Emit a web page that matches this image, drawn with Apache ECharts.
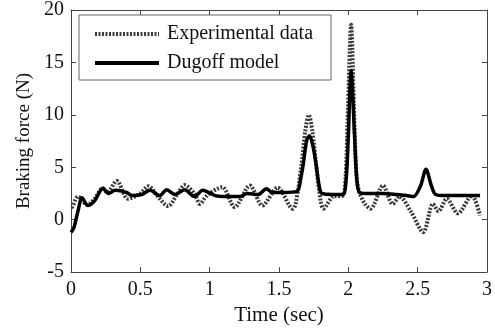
<!DOCTYPE html>
<html><head><meta charset="utf-8">
<script src="https://cdn.jsdelivr.net/npm/echarts@6/dist/echarts.min.js"></script>
<style>html,body{margin:0;padding:0;background:#fff}#c{width:495px;height:331px}</style>
</head><body><div id="c"></div>
<script>
const seriesNames = ['Experimental data', 'Dugoff model'];
const xTicks = [0, 0.5, 1, 1.5, 2, 2.5, 3];
const yTicks = [-5, 0, 5, 10, 15, 20];

const expT = [0,0.01,0.05,0.12,0.17,0.23,0.26,0.33,0.41,0.50,0.56,0.62,0.70,0.77,0.82,0.89,0.93,0.98,1.09,1.18,1.29,1.38,1.49,1.60,1.62,1.66,1.69,1.715,1.74,1.77,1.80,1.82,1.89,1.96,1.98,1.995,2.02,2.043,2.06,2.08,2.12,2.16,2.25,2.32,2.37,2.45,2.54,2.61,2.65,2.71,2.79,2.89,2.95];
const expV = [1.2,1.25,2.2,1.4,2.0,3.0,2.6,3.7,2.0,2.5,3.2,2.3,1.3,2.5,3.3,2.5,1.5,2.3,3.1,1.2,3.25,1.35,3.05,1.05,1.5,5.0,8.5,10.0,8.5,5.0,1.8,1.05,2.2,2.3,4.0,9.5,18.6,9.5,4.0,2.6,1.5,1.05,3.25,1.5,2.2,0.8,-1.2,1.5,0.8,2.0,0.6,2.3,0.4];

const dugT = [0,0.02,0.05,0.08,0.12,0.17,0.23,0.27,0.32,0.40,0.44,0.51,0.57,0.64,0.69,0.75,0.82,0.89,0.95,1.04,1.12,1.22,1.27,1.35,1.41,1.45,1.53,1.63,1.655,1.675,1.70,1.72,1.745,1.767,1.79,1.81,1.89,1.96,1.985,2.0,2.02,2.045,2.06,2.08,2.13,2.25,2.35,2.42,2.47,2.52,2.56,2.60,2.63,2.7,2.8,2.95];
const dugV = [-1.2,-0.8,0.8,2.1,1.35,1.8,3.0,2.5,2.8,2.6,2.3,2.4,2.8,2.3,2.85,2.4,2.85,2.2,2.8,2.3,2.2,2.2,2.5,2.4,2.95,2.6,2.6,2.7,3.8,5.3,7.6,8.0,7.0,5.3,3.2,2.5,2.4,2.4,4.0,8.0,14.2,8.0,4.0,2.6,2.5,2.5,2.4,2.3,2.2,3.2,4.8,3.2,2.4,2.3,2.3,2.3];

const zip = (a, b) => a.map((t, i) => [t, b[i]]);
const font = 'Liberation Serif, Times New Roman, serif';
const chart = echarts.init(document.getElementById('c'));
const axisCommon = {
  axisLine: {show: true, onZero: false, lineStyle: {color: '#444', width: 1}},
  axisTick: {show: true, inside: true, length: 5, lineStyle: {color: '#444'}},
  splitLine: {show: false}
};
chart.setOption({
  animation: false,
  grid: {left: 71, right: 8, top: 10, bottom: 57},
  legend: {
    data: seriesNames, orient: 'vertical', left: 79, top: 15,
    itemWidth: 64, itemHeight: 20, itemGap: 9,
    padding: [9, 18, 7, 14],
    borderColor: '#666', borderWidth: 1,
    itemStyle: {opacity: 0},
    lineStyle: {width: 4},
    textStyle: {fontFamily: font, fontSize: 20, color: '#111', padding: [0, 0, 0, 3]}
  },
  xAxis: [
    Object.assign({type: 'value', min: 0, max: 3, interval: 0.5, position: 'bottom',
      name: 'Time (sec)', nameLocation: 'middle', nameGap: 31,
      nameTextStyle: {fontFamily: font, fontSize: 21, color: '#111'},
      axisLabel: {fontFamily: font, fontSize: 20, color: '#111', margin: 8,
        formatter: v => xTicks.includes(v) ? String(v) : ''}}, axisCommon),
    Object.assign({type: 'value', min: 0, max: 3, interval: 0.5, position: 'top',
      axisLabel: {show: false}}, axisCommon)
  ],
  yAxis: [
    Object.assign({type: 'value', min: -5, max: 20, interval: 5, position: 'left',
      name: 'Braking force (N)', nameLocation: 'middle', nameGap: 37,
      nameTextStyle: {fontFamily: font, fontSize: 19, color: '#111'},
      axisLabel: {fontFamily: font, fontSize: 20, color: '#111', margin: 7,
        formatter: v => yTicks.includes(v) ? String(v) : ''}}, axisCommon),
    Object.assign({type: 'value', min: -5, max: 20, interval: 5, position: 'right',
      axisLabel: {show: false}}, axisCommon)
  ],
  series: [
    {name: seriesNames[0], type: 'line', data: zip(expT, expV), showSymbol: false, symbol: 'none',
      smooth: 0.3, lineStyle: {color: '#3a3a3a', width: 4, type: [2, 1.5]}, itemStyle: {color: '#3a3a3a'}},
    {name: seriesNames[1], type: 'line', data: zip(dugT, dugV), showSymbol: false, symbol: 'none',
      smooth: 0.3, lineStyle: {color: '#000', width: 3.5}, itemStyle: {color: '#000'}}
  ]
});
</script></body></html>
